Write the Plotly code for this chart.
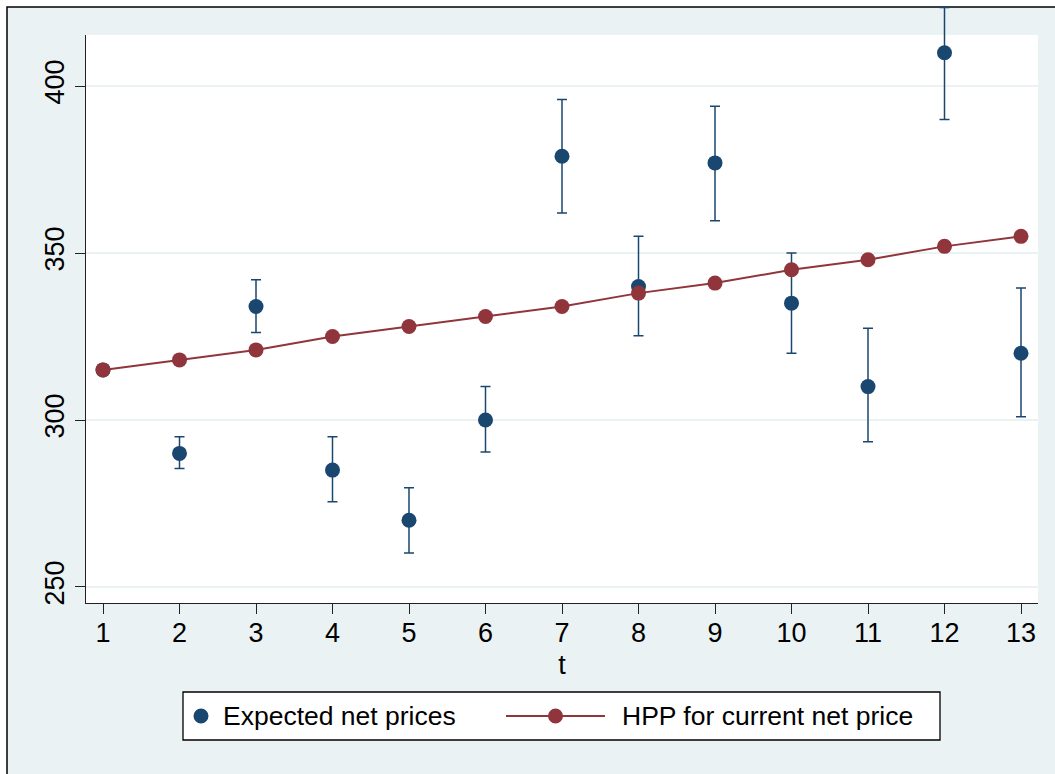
import plotly.graph_objects as go

# ---- data ----
t = [1, 2, 3, 4, 5, 6, 7, 8, 9, 10, 11, 12, 13]
expected = [315, 290, 334, 285, 270, 300, 379, 340, 377, 335, 310, 410, 320]
err_plus = [0, 5, 8, 10, 9.7, 10, 17, 15, 17, 15, 17.5, 13.5, 19.5]
err_minus = [0, 4.5, 7.8, 9.5, 9.8, 9.6, 17, 14.8, 17.3, 15, 16.5, 20, 19]
hpp = [315, 318, 321, 325, 328, 331, 334, 338, 341, 345, 348, 352, 355]
y_ticks = [250, 300, 350, 400]
x_ticks = t
series_names = ["Expected net prices", "HPP for current net price"]

BLUE = "#1A476F"
RED = "#90353B"
BG = "#EAF2F3"
FONT = "Liberation Sans, Arial, Helvetica, sans-serif"

W, H = 1055, 774
L, R, T, B = 86, 17, 35, 171
PW, PH = W - L - R, H - T - B


def px(x):
    return (x - L) / PW


def py(y):
    return (H - B - y) / PH


fig = go.Figure()
fig.add_trace(go.Scatter(
    x=t, y=expected, mode="markers", name=series_names[0],
    marker=dict(color=BLUE, size=15),
    error_y=dict(type="data", symmetric=False, array=err_plus, arrayminus=err_minus,
                 color=BLUE, thickness=1.5, width=5),
    cliponaxis=False, showlegend=False,
))
fig.add_trace(go.Scatter(
    x=t, y=hpp, mode="lines+markers", name=series_names[1],
    line=dict(color=RED, width=2),
    marker=dict(color=RED, size=15),
    cliponaxis=False, showlegend=False,
))

shapes = [
    # outer graph region with frame
    dict(type="rect", xref="paper", yref="paper", x0=px(7), x1=px(1070), y0=py(790), y1=py(7),
         fillcolor=BG, line=dict(color="black", width=1.5), layer="below"),
    # white plot region
    dict(type="rect", xref="paper", yref="paper", x0=0, x1=1, y0=0, y1=1,
         fillcolor="white", line=dict(width=0), layer="below"),
    # legend box
    dict(type="rect", xref="paper", yref="paper", x0=px(183), x1=px(940), y0=py(740), y1=py(692),
         fillcolor="white", line=dict(color="black", width=1.3), layer="above"),
    # legend blue marker
    dict(type="circle", xref="paper", yref="paper", xsizemode="pixel", ysizemode="pixel",
         xanchor=px(201), yanchor=py(716), x0=-7.5, x1=7.5, y0=-7.5, y1=7.5,
         fillcolor=BLUE, line=dict(width=0), layer="above"),
    # legend red line + marker
    dict(type="line", xref="paper", yref="paper", x0=px(506), x1=px(605), y0=py(716), y1=py(716),
         line=dict(color=RED, width=2), layer="above"),
    dict(type="circle", xref="paper", yref="paper", xsizemode="pixel", ysizemode="pixel",
         xanchor=px(555.5), yanchor=py(716), x0=-7.5, x1=7.5, y0=-7.5, y1=7.5,
         fillcolor=RED, line=dict(width=0), layer="above"),
]

annotations = [
    dict(text=series_names[0], xref="paper", yref="paper", x=px(221), y=py(716),
         xanchor="left", yanchor="middle", showarrow=False,
         font=dict(family=FONT, size=26.5, color="black")),
    dict(text=series_names[1], xref="paper", yref="paper", x=px(620), y=py(716),
         xanchor="left", yanchor="middle", showarrow=False,
         font=dict(family=FONT, size=26.5, color="black")),
]

fig.update_layout(
    width=W, height=H,
    margin=dict(l=L, r=R, t=T, b=B, pad=0),
    paper_bgcolor="white", plot_bgcolor="white",
    font=dict(family=FONT, size=27, color="black"),
    shapes=shapes, annotations=annotations,
    showlegend=False,
    xaxis=dict(
        range=[1 - 17 / 76.5, 13 + 17 / 76.5],
        tickmode="array", tickvals=x_ticks, ticktext=[str(v) for v in x_ticks],
        ticks="outside", ticklen=10, tickwidth=1.3, tickcolor="#222",
        showline=True, linecolor="#222", linewidth=1.3,
        showgrid=False, zeroline=False,
        title=dict(text="t", standoff=8, font=dict(size=27)),
        tickfont=dict(size=27),
        ticklabelstandoff=-5,
    ),
    yaxis=dict(
        range=[245.2, 415.3],
        tickmode="array", tickvals=y_ticks, ticktext=[str(v) for v in y_ticks],
        ticks="outside", ticklen=10, tickwidth=1.3, tickcolor="#222",
        showline=True, linecolor="#222", linewidth=1.3,
        showgrid=True, gridcolor=BG, gridwidth=1.5, zeroline=False,
        tickangle=-90, tickfont=dict(size=27),
    ),
)

post = (
    "document.body.style.margin='0';document.body.style.padding='0';"
    "var gd=document.getElementsByClassName('plotly-graph-div')[0];"
    "function unclip(){gd.querySelectorAll('g.errorbars, g.errorbar, path.yerror').forEach(function(e){"
    "var n=e;for(var i=0;i<4&&n&&n!==gd;i++){if(n.removeAttribute)n.removeAttribute('clip-path');n=n.parentNode;}});}"
    "unclip();setTimeout(unclip,50);"
)
fig.write_html("out.html", post_script=post, config={"displayModeBar": False})
